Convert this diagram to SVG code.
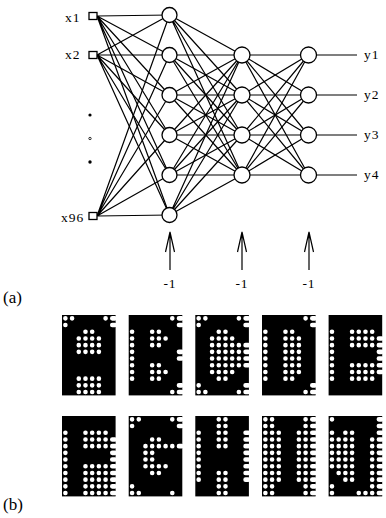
<svg xmlns="http://www.w3.org/2000/svg" width="386" height="518" viewBox="0 0 386 518">
<defs>
<style>
.ln{stroke:#000;stroke-width:1.2;fill:none}
.nd{fill:#fff;stroke:#000;stroke-width:1.3}
.t{font-family:"Liberation Serif","DejaVu Serif",serif;font-size:13.5px;fill:#000;letter-spacing:1px}
.tb{font-family:"Liberation Serif","DejaVu Serif",serif;font-size:17px;fill:#000}
.bx{fill:#000}
.dt{fill:none;stroke:#fff;stroke-width:0.68;stroke-linecap:round}
</style>
</defs>
<rect width="386" height="518" fill="#fff"/>
<g id="connectors" class="ln">
<!-- inputs to hidden 1 -->
<path d="M97 16L169.5 15M97 16L169.5 55M97 16L169.5 95M97 16L169.5 135M97 16L169.5 175M97 16L169.5 215"/>
<path d="M97 55L169.5 15M97 55L169.5 55M97 55L169.5 95M97 55L169.5 135M97 55L169.5 175M97 55L169.5 215"/>
<path d="M97 216L169.5 15M97 216L169.5 55M97 216L169.5 95M97 216L169.5 135M97 216L169.5 175M97 216L169.5 215"/>
<!-- hidden 1 to hidden 2 -->
<path d="M169.5 15L242 55M169.5 15L242 95M169.5 15L242 135M169.5 15L242 175"/>
<path d="M169.5 55L242 55M169.5 55L242 95M169.5 55L242 135M169.5 55L242 175"/>
<path d="M169.5 95L242 55M169.5 95L242 95M169.5 95L242 135M169.5 95L242 175"/>
<path d="M169.5 135L242 55M169.5 135L242 95M169.5 135L242 135M169.5 135L242 175"/>
<path d="M169.5 175L242 55M169.5 175L242 95M169.5 175L242 135M169.5 175L242 175"/>
<path d="M169.5 215L242 55M169.5 215L242 95M169.5 215L242 135M169.5 215L242 175"/>
<!-- hidden 2 to output -->
<path d="M242 55L308.5 55M242 55L308.5 95M242 55L308.5 135M242 55L308.5 175"/>
<path d="M242 95L308.5 55M242 95L308.5 95M242 95L308.5 135M242 95L308.5 175"/>
<path d="M242 135L308.5 55M242 135L308.5 95M242 135L308.5 135M242 135L308.5 175"/>
<path d="M242 175L308.5 55M242 175L308.5 95M242 175L308.5 135M242 175L308.5 175"/>
<!-- outputs -->
<path d="M308.5 55H357M308.5 95H357M308.5 135H357M308.5 175H357"/>
<!-- bias arrows -->
<path d="M170 233V270M165.5 252L170 232L174.5 252"/>
<path d="M242 233V270M237.5 252L242 232L246.5 252"/>
<path d="M309 233V270M304.5 252L309 232L313.5 252"/>
</g>
<g id="in-x1"><rect class="nd" x="89" y="12.5" width="8" height="7"/><text class="t" x="65" y="21.5">x1</text></g>
<g id="in-x2"><rect class="nd" x="89" y="51.5" width="8" height="7"/><text class="t" x="65" y="58.5">x2</text></g>
<g id="in-dots"><circle cx="90" cy="115" r="1.6"/><circle cx="90" cy="138.5" r="1.2" fill="none" stroke="#000" stroke-width="0.8"/><circle cx="90" cy="162" r="1.7"/></g>
<g id="in-x96"><rect class="nd" x="89" y="212.5" width="8" height="7"/><text class="t" x="61" y="221.5" letter-spacing="0">x96</text></g>
<g id="h1">
<circle class="nd" cx="169.5" cy="15" r="7.5"/><circle class="nd" cx="169.5" cy="55" r="7.5"/><circle class="nd" cx="169.5" cy="95" r="7.5"/><circle class="nd" cx="169.5" cy="135" r="7.5"/><circle class="nd" cx="169.5" cy="175" r="7.5"/><circle class="nd" cx="169.5" cy="215" r="7.5"/>
</g>
<g id="h2">
<circle class="nd" cx="242" cy="55" r="8"/><circle class="nd" cx="242" cy="95" r="8"/><circle class="nd" cx="242" cy="135" r="8"/><circle class="nd" cx="242" cy="175" r="8"/>
</g>
<g id="out">
<circle class="nd" cx="308.5" cy="55" r="8"/><circle class="nd" cx="308.5" cy="95" r="8"/><circle class="nd" cx="308.5" cy="135" r="8"/><circle class="nd" cx="308.5" cy="175" r="8"/>
<text class="t" x="364" y="59">y1</text><text class="t" x="364" y="99">y2</text><text class="t" x="364" y="139">y3</text><text class="t" x="364" y="179">y4</text>
</g>
<g id="bias" class="t" text-anchor="middle" font-size="14">
<text x="170" y="288">-1</text><text x="242" y="288">-1</text><text x="309" y="288">-1</text>
</g>
<text id="lbl-a" class="tb" x="3" y="303">(a)</text>
<text id="lbl-b" class="tb" x="3" y="510">(b)</text>
<g id="letter-A" transform="translate(62 315) scale(6.7)"><rect class="bx" width="8" height="12"/><path class="dt" d="M.5 .5h.01M1.5 .5h.01M6.5 .5h.01M7.5 .5h.4M.5 1.5h.01M7.5 1.5h.4M3.5 2.5h.01M4.5 2.5h.01M2.5 3.5h.01M3.5 3.5h.01M4.5 3.5h.01M5.5 3.5h.01M2.5 4.5h.01M3.5 4.5h.01M4.5 4.5h.01M5.5 4.5h.01M2.5 5.5h.01M3.5 5.5h.01M4.5 5.5h.01M5.5 5.5h.01M2.5 9.5h.01M3.5 9.5h.01M4.5 9.5h.01M5.5 9.5h.01M2.5 10.5h.01M3.5 10.5h.01M4.5 10.5h.01M5.5 10.5h.01M2.5 11.5h.01M3.5 11.5h.01M4.5 11.5h.01M5.5 11.5h.01"/></g>
<g id="letter-B" transform="translate(128.7 315) scale(6.7)"><rect class="bx" width="8" height="12"/><path class="dt" d="M6.5 .5h.01M7.5 .5h.4M7.5 1.5h.4M.5 2.5h.01M3.5 2.5h.01M4.5 2.5h.01M.5 3.5h.01M3.5 3.5h.01M4.5 3.5h.01M5.5 3.5h.01M.5 4.5h.01M3.5 4.5h.01M4.5 4.5h.01M.5 5.5h.01M7.5 5.5h.4M.5 6.5h.01M7.5 6.5h.4M.5 7.5h.01M3.5 7.5h.01M4.5 7.5h.01M.5 8.5h.01M3.5 8.5h.01M4.5 8.5h.01M5.5 8.5h.01M.5 9.5h.01M3.5 9.5h.01M4.5 9.5h.01M7.5 10.5h.4M6.5 11.5h.01M7.5 11.5h.4"/></g>
<g id="letter-C" transform="translate(195.3 315) scale(6.7)"><rect class="bx" width="8" height="12"/><path class="dt" d="M.5 .5h.01M1.5 .5h.01M6.5 .5h.01M7.5 .5h.4M.5 1.5h.01M7.5 1.5h.4M3.5 2.5h.01M4.5 2.5h.01M2.5 3.5h.01M3.5 3.5h.01M4.5 3.5h.01M5.5 3.5h.01M2.5 4.5h.01M3.5 4.5h.01M4.5 4.5h.01M5.5 4.5h.01M6.5 4.5h.01M7.5 4.5h.4M2.5 5.5h.01M3.5 5.5h.01M4.5 5.5h.01M5.5 5.5h.01M6.5 5.5h.01M7.5 5.5h.4M2.5 6.5h.01M3.5 6.5h.01M4.5 6.5h.01M5.5 6.5h.01M6.5 6.5h.01M7.5 6.5h.4M2.5 7.5h.01M3.5 7.5h.01M4.5 7.5h.01M5.5 7.5h.01M6.5 7.5h.01M7.5 7.5h.4M2.5 8.5h.01M3.5 8.5h.01M4.5 8.5h.01M5.5 8.5h.01M3.5 9.5h.01M4.5 9.5h.01M.5 10.5h.01M7.5 10.5h.4M.5 11.5h.01M1.5 11.5h.01M6.5 11.5h.01M7.5 11.5h.4"/></g>
<g id="letter-D" transform="translate(262 315) scale(6.7)"><rect class="bx" width="8" height="12"/><path class="dt" d="M6.5 .5h.01M7.5 .5h.4M7.5 1.5h.4M.5 2.5h.01M3.5 2.5h.01M4.5 2.5h.01M.5 3.5h.01M3.5 3.5h.01M4.5 3.5h.01M5.5 3.5h.01M.5 4.5h.01M3.5 4.5h.01M4.5 4.5h.01M5.5 4.5h.01M.5 5.5h.01M3.5 5.5h.01M4.5 5.5h.01M5.5 5.5h.01M.5 6.5h.01M3.5 6.5h.01M4.5 6.5h.01M5.5 6.5h.01M.5 7.5h.01M3.5 7.5h.01M4.5 7.5h.01M5.5 7.5h.01M.5 8.5h.01M3.5 8.5h.01M4.5 8.5h.01M5.5 8.5h.01M.5 9.5h.01M3.5 9.5h.01M4.5 9.5h.01M7.5 10.5h.4M6.5 11.5h.01M7.5 11.5h.4"/></g>
<g id="letter-E" transform="translate(328.6 315) scale(6.7)"><rect class="bx" width="8" height="12"/><path class="dt" d="M.5 2.5h.01M3.5 2.5h.01M4.5 2.5h.01M5.5 2.5h.01M6.5 2.5h.01M.5 3.5h.01M3.5 3.5h.01M4.5 3.5h.01M5.5 3.5h.01M6.5 3.5h.01M7.5 3.5h.4M.5 4.5h.01M3.5 4.5h.01M4.5 4.5h.01M5.5 4.5h.01M6.5 4.5h.01M7.5 4.5h.4M.5 5.5h.01M7.5 5.5h.4M.5 6.5h.01M7.5 6.5h.4M.5 7.5h.01M3.5 7.5h.01M4.5 7.5h.01M5.5 7.5h.01M6.5 7.5h.01M7.5 7.5h.4M.5 8.5h.01M3.5 8.5h.01M4.5 8.5h.01M5.5 8.5h.01M6.5 8.5h.01M7.5 8.5h.4M.5 9.5h.01M3.5 9.5h.01M4.5 9.5h.01M5.5 9.5h.01M6.5 9.5h.01"/></g>
<g id="letter-F" transform="translate(62 416) scale(6.7)"><rect class="bx" width="8" height="12"/><path class="dt" d="M.5 2.5h.01M3.5 2.5h.01M4.5 2.5h.01M5.5 2.5h.01M6.5 2.5h.01M.5 3.5h.01M3.5 3.5h.01M4.5 3.5h.01M5.5 3.5h.01M6.5 3.5h.01M7.5 3.5h.4M.5 4.5h.01M3.5 4.5h.01M4.5 4.5h.01M5.5 4.5h.01M6.5 4.5h.01M7.5 4.5h.4M.5 5.5h.01M7.5 5.5h.4M.5 6.5h.01M7.5 6.5h.4M.5 7.5h.01M3.5 7.5h.01M4.5 7.5h.01M5.5 7.5h.01M6.5 7.5h.01M7.5 7.5h.4M.5 8.5h.01M3.5 8.5h.01M4.5 8.5h.01M5.5 8.5h.01M6.5 8.5h.01M7.5 8.5h.4M.5 9.5h.01M3.5 9.5h.01M4.5 9.5h.01M5.5 9.5h.01M6.5 9.5h.01M7.5 9.5h.4M.5 10.5h.01M3.5 10.5h.01M4.5 10.5h.01M5.5 10.5h.01M6.5 10.5h.01M7.5 10.5h.4M.5 11.5h.01M3.5 11.5h.01M4.5 11.5h.01M5.5 11.5h.01M6.5 11.5h.01M7.5 11.5h.4"/></g>
<g id="letter-G" transform="translate(128.7 416) scale(6.7)"><rect class="bx" width="8" height="12"/><path class="dt" d="M.5 .5h.01M1.5 .5h.01M6.5 .5h.01M7.5 .5h.4M.5 1.5h.01M7.5 1.5h.4M3.5 3.5h.01M4.5 3.5h.01M2.5 4.5h.01M3.5 4.5h.01M4.5 4.5h.01M5.5 4.5h.01M6.5 4.5h.01M7.5 4.5h.4M2.5 5.5h.01M3.5 5.5h.01M2.5 6.5h.01M3.5 6.5h.01M2.5 7.5h.01M3.5 7.5h.01M4.5 7.5h.01M5.5 7.5h.01M3.5 8.5h.01M4.5 8.5h.01M.5 10.5h.01M.5 11.5h.01M1.5 11.5h.01M6.5 11.5h.01"/></g>
<g id="letter-H" transform="translate(195.3 416) scale(6.7)"><rect class="bx" width="8" height="12"/><path class="dt" d="M3.5 .5h.01M4.5 .5h.01M3.5 1.5h.01M4.5 1.5h.01M.5 2.5h.01M3.5 2.5h.01M4.5 2.5h.01M7.5 2.5h.4M.5 3.5h.01M3.5 3.5h.01M4.5 3.5h.01M7.5 3.5h.4M.5 4.5h.01M3.5 4.5h.01M4.5 4.5h.01M7.5 4.5h.4M.5 5.5h.01M7.5 5.5h.4M.5 6.5h.01M7.5 6.5h.4M.5 7.5h.01M7.5 7.5h.4M.5 8.5h.01M3.5 8.5h.01M4.5 8.5h.01M7.5 8.5h.4M.5 9.5h.01M3.5 9.5h.01M4.5 9.5h.01M7.5 9.5h.4M3.5 10.5h.01M4.5 10.5h.01M3.5 11.5h.01M4.5 11.5h.01"/></g>
<g id="letter-I" transform="translate(262 416) scale(6.7)"><rect class="bx" width="8" height="12"/><path class="dt" d="M.5 .5h.01M1.5 .5h.01M6.5 .5h.01M7.5 .5h.4M.5 1.5h.01M1.5 1.5h.01M6.5 1.5h.01M7.5 1.5h.4M.5 2.5h.01M1.5 2.5h.01M2.5 2.5h.01M5.5 2.5h.01M6.5 2.5h.01M7.5 2.5h.4M.5 3.5h.01M1.5 3.5h.01M2.5 3.5h.01M5.5 3.5h.01M6.5 3.5h.01M7.5 3.5h.4M.5 4.5h.01M1.5 4.5h.01M2.5 4.5h.01M5.5 4.5h.01M6.5 4.5h.01M7.5 4.5h.4M.5 5.5h.01M1.5 5.5h.01M2.5 5.5h.01M5.5 5.5h.01M6.5 5.5h.01M7.5 5.5h.4M.5 6.5h.01M1.5 6.5h.01M2.5 6.5h.01M5.5 6.5h.01M6.5 6.5h.01M7.5 6.5h.4M.5 7.5h.01M1.5 7.5h.01M2.5 7.5h.01M5.5 7.5h.01M6.5 7.5h.01M7.5 7.5h.4M.5 8.5h.01M1.5 8.5h.01M2.5 8.5h.01M5.5 8.5h.01M6.5 8.5h.01M7.5 8.5h.4M.5 9.5h.01M1.5 9.5h.01M2.5 9.5h.01M5.5 9.5h.01M6.5 9.5h.01M7.5 9.5h.4M.5 10.5h.01M1.5 10.5h.01M6.5 10.5h.01M7.5 10.5h.4M.5 11.5h.01M1.5 11.5h.01M6.5 11.5h.01M7.5 11.5h.4"/></g>
<g id="letter-J" transform="translate(328.6 416) scale(6.7)"><rect class="bx" width="8" height="12"/><path class="dt" d="M.5 .5h.01M7.5 .5h.4M7.5 1.5h.4M.5 2.5h.01M2.5 2.5h.01M3.5 2.5h.01M7.5 2.5h.4M.5 3.5h.01M1.5 3.5h.01M2.5 3.5h.01M3.5 3.5h.01M6.5 3.5h.01M7.5 3.5h.4M.5 4.5h.01M1.5 4.5h.01M2.5 4.5h.01M3.5 4.5h.01M6.5 4.5h.01M7.5 4.5h.4M.5 5.5h.01M1.5 5.5h.01M2.5 5.5h.01M3.5 5.5h.01M6.5 5.5h.01M7.5 5.5h.4M.5 6.5h.01M1.5 6.5h.01M2.5 6.5h.01M3.5 6.5h.01M6.5 6.5h.01M7.5 6.5h.4M.5 7.5h.01M1.5 7.5h.01M2.5 7.5h.01M3.5 7.5h.01M6.5 7.5h.01M7.5 7.5h.4M1.5 8.5h.01M2.5 8.5h.01M3.5 8.5h.01M6.5 8.5h.01M7.5 8.5h.4M2.5 9.5h.01M3.5 9.5h.01M6.5 9.5h.01M7.5 9.5h.4M.5 10.5h.01M6.5 10.5h.01M7.5 10.5h.4M.5 11.5h.01M4.5 11.5h.01M5.5 11.5h.01M6.5 11.5h.01M7.5 11.5h.4"/></g>
</svg>
